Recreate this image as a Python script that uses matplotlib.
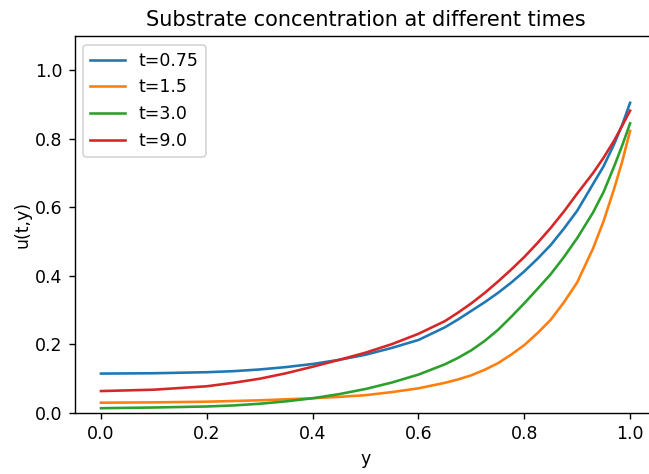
import matplotlib
matplotlib.use('Agg')
import matplotlib.pyplot as plt

# values
y_vals = [0.0, 0.1, 0.2, 0.25, 0.3, 0.35, 0.4, 0.45, 0.5, 0.55, 0.6, 0.65, 0.675, 0.7, 0.725,
          0.75, 0.775, 0.8, 0.825, 0.85, 0.875, 0.9, 0.93, 0.95, 0.97, 0.985, 1.0]

u_075 = [0.115, 0.116, 0.119, 0.122, 0.127, 0.134, 0.143, 0.155, 0.170, 0.190, 0.213, 0.250, 0.273, 0.298, 0.323,
         0.350, 0.380, 0.413, 0.450, 0.490, 0.538, 0.590, 0.668, 0.720, 0.785, 0.840, 0.905]
u_15 = [0.030, 0.031, 0.033, 0.035, 0.037, 0.040, 0.043, 0.047, 0.052, 0.061, 0.072, 0.088, 0.098, 0.110, 0.126,
        0.145, 0.170, 0.198, 0.233, 0.272, 0.323, 0.381, 0.480, 0.560, 0.655, 0.733, 0.823]
u_30 = [0.014, 0.016, 0.019, 0.022, 0.027, 0.034, 0.043, 0.055, 0.070, 0.089, 0.112, 0.142, 0.161, 0.183, 0.210,
        0.242, 0.280, 0.320, 0.362, 0.405, 0.455, 0.510, 0.585, 0.645, 0.720, 0.780, 0.845]
u_90 = [0.064, 0.068, 0.078, 0.088, 0.100, 0.116, 0.135, 0.155, 0.176, 0.201, 0.231, 0.268, 0.293, 0.320, 0.350,
        0.383, 0.418, 0.455, 0.496, 0.540, 0.588, 0.640, 0.700, 0.745, 0.795, 0.838, 0.882]

series = [u_075, u_15, u_30, u_90]
labels = ['t=0.75', 't=1.5', 't=3.0', 't=9.0']

fig = plt.figure(figsize=(649 / 125, 474 / 125), dpi=125)
ax = fig.add_axes([0.1148, 0.1287, 0.8968, 0.7954])
for u, lab in zip(series, labels):
    ax.plot(y_vals, u, label=lab)
ax.set_xlim(-0.05, 1.05)
ax.set_ylim(0, 1.1)
ax.set_xlabel('y')
ax.set_ylabel('u(t,y)', labelpad=2)
ax.set_title('Substrate concentration at different times')
ax.legend(loc='upper left')
fig.savefig('out.png', dpi=125)
